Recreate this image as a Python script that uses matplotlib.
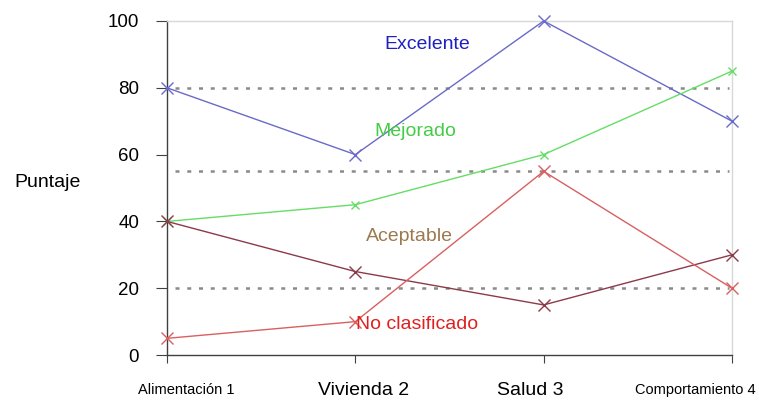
import matplotlib
matplotlib.use("Agg")
import matplotlib.pyplot as plt
from matplotlib.transforms import ScaledTranslation

categories = ["Alimentación 1", "Vivienda 2", "Salud 3", "Comportamiento 4"]
excelente = [80, 60, 100, 70]
mejorado = [40, 45, 60, 85]
aceptable = [40, 25, 15, 30]
no_clasificado = [5, 10, 55, 20]
ref_levels = [80, 55, 20]
yticks = [0, 20, 40, 60, 80, 100]

plt.rcParams['font.family'] = ['Liberation Sans', 'DejaVu Sans']

fig = plt.figure(figsize=(7.59, 4.03), dpi=100)
ax = fig.add_axes([0.22, 0.119, 0.7444, 0.829])
x = list(range(len(categories)))

for lv in ref_levels:
    ax.axhline(lv, color="#8a8a8a", lw=1.8, ls=(0, (1.6, 3.1)), xmin=0.015, xmax=0.995, zorder=1)

series = [
    (excelente, "#6a6ac8"),
    (mejorado, "#66dd66"),
    (aceptable, "#8b3a4a"),
    (no_clasificado, "#d86060"),
]
for vals, c in series:
    ms = 6 if c == "#66dd66" else 9
    ax.plot(x, vals, color=c, lw=1.0, marker="x", ms=ms, mew=1.0, zorder=3, clip_on=False)

ax.text(1.38, 93, "Excelente", color="#2020c0", fontsize=14, ha="center", va="center")
ax.text(1.32, 67, "Mejorado", color="#44cc44", fontsize=14, ha="center", va="center")
ax.text(1.29, 35.5, "Aceptable", color="#9c7a50", fontsize=14, ha="center", va="center")
ax.text(1.33, 9, "No clasificado", color="#e02020", fontsize=14, ha="center", va="center")

ax.set_xlim(0, 3)
ax.set_ylim(0, 100)
ax.set_yticks(yticks)
ax.set_yticklabels([str(v) for v in yticks], fontsize=13.5)
ax.set_xticks(x)
ax.set_xticklabels([""] * len(categories))
sizes = [10.5, 14, 14, 10.5]
offsets = [19, 8, -13, -37]
base = ax.get_xaxis_transform()
for xi, lab, s, o in zip(x, categories, sizes, offsets):
    tr = base + ScaledTranslation(o / 100, -35 / 100, fig.dpi_scale_trans)
    ax.text(xi, 0, lab, fontsize=s, ha="center", va="center", transform=tr, clip_on=False)
ax.tick_params(axis="x", direction="out", length=6, pad=14, color="#404040")
ax.tick_params(axis="y", direction="out", length=8, pad=12, color="#404040")

for s in ["left", "bottom"]:
    ax.spines[s].set_color("#404040")
    ax.spines[s].set_linewidth(1.0)
for s in ["top", "right"]:
    ax.spines[s].set_color("#d8d8d8")
    ax.spines[s].set_linewidth(1.0)

fig.text(14/759, 1 - 183/403, "Puntaje", fontsize=14, ha="left", va="center")

fig.savefig("out.png", dpi=100)
